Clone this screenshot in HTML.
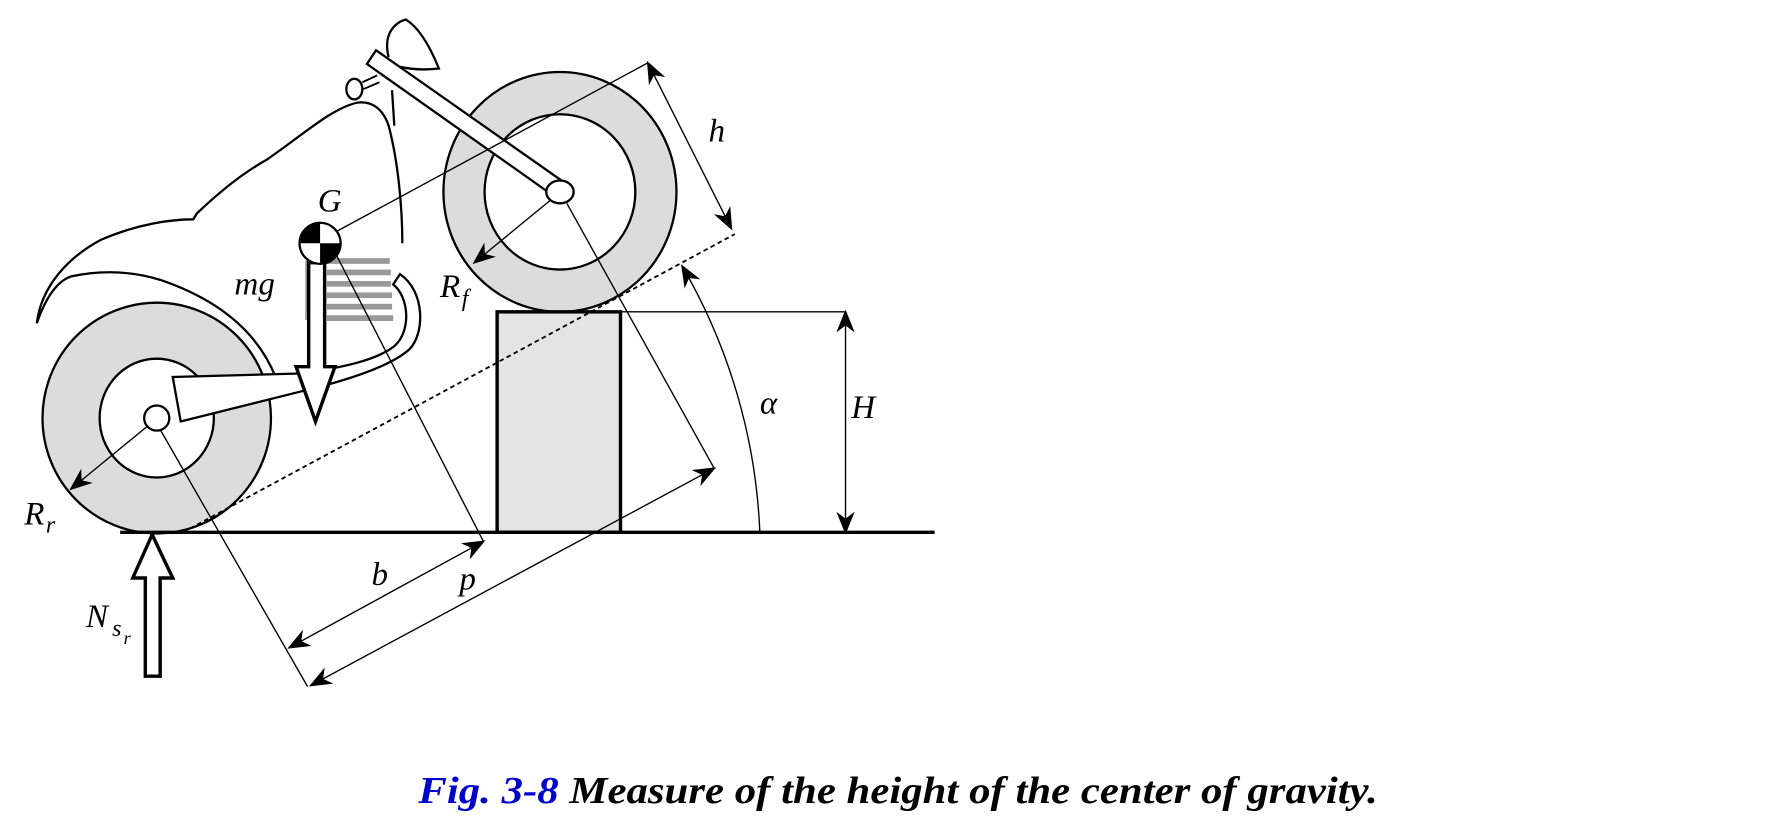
<!DOCTYPE html>
<html><head><meta charset="utf-8"><style>
html,body{margin:0;padding:0;background:#fff;width:1779px;height:827px;overflow:hidden}
svg{display:block}
text{font-family:"Liberation Serif",serif;font-style:italic}
</style></head><body>
<svg width="1779" height="827" viewBox="0 0 1557 724" xmlns="http://www.w3.org/2000/svg">
<defs>
<marker id="a" viewBox="0 0 10 10" refX="9" refY="5" markerWidth="20" markerHeight="20" markerUnits="userSpaceOnUse" orient="auto-start-reverse"><path d="M0,1 L10,5 L0,9 L3,5 Z" fill="#000"/></marker>
</defs>
<g fill="none" stroke="#000" stroke-width="2">
<path d="M32,283 C36,250 60,225 88,210 C120,196 150,192 169,192 L172,187 C195,165 215,150 233,140 C265,118 290,95 312,90 C325,88 335,95 340,110 C348,140 352,180 352,213"/>
<path d="M32,283 C40,260 50,246 62,242 C90,236 117,238 140,245 C190,262 225,290 241,330"/>
<path d="M343,79 L345,110"/>
<path d="M340,50 C335,30 345,20 355,17 C368,25 378,45 384,60 C368,62 350,60 340,55" fill="#fff"/>
<ellipse cx="310" cy="78" rx="7" ry="9" fill="#fff"/>
<path d="M317,72 L330,66 M318,78 L332,72" stroke-width="1.6"/>
</g>
<ellipse cx="137" cy="366" rx="100" ry="101" fill="#dcdcdc" stroke="#000" stroke-width="2"/>
<ellipse cx="137" cy="366" rx="50" ry="52" fill="#fff" stroke="#000" stroke-width="2"/>
<ellipse cx="490" cy="168" rx="102" ry="105" fill="#dcdcdc" stroke="#000" stroke-width="2"/>
<ellipse cx="490" cy="168" rx="66" ry="68" fill="#fff" stroke="#000" stroke-width="2"/>
<path d="M151,330 L158,369 L262,343 C300,334 340,322 358,306 C372,292 372,255 350,240 L344,249 C358,260 360,290 345,303 C330,315 300,322 262,327 Z" fill="#fff" stroke="#000" stroke-width="2"/>
<polygon points="329,44 497,162 488,174 321,56" fill="#fff" stroke="#000" stroke-width="2"/>
<rect x="435" y="273" width="108" height="193" fill="#e4e4e4" stroke="#000" stroke-width="3"/>
<circle cx="137" cy="366" r="11" fill="#fff" stroke="#000" stroke-width="2"/>
<ellipse cx="490" cy="168" rx="12" ry="10" fill="#fff" stroke="#000" stroke-width="2"/>
<line x1="105" y1="466" x2="818" y2="466" stroke="#000" stroke-width="3"/>
<g fill="#999">
<rect x="286" y="226" width="55" height="5"/><rect x="286" y="236" width="56" height="5"/><rect x="286" y="246" width="56" height="5"/><rect x="286" y="256" width="57" height="5"/><rect x="286" y="266" width="57" height="5"/><rect x="286" y="276" width="58" height="5"/>
<rect x="267" y="228" width="3" height="52"/>
</g>
<g stroke="#000" stroke-width="1.2" fill="none">
<line x1="290" y1="205" x2="567" y2="55"/>
<line x1="496" y1="178" x2="625" y2="410"/>
<line x1="140" y1="376" x2="269" y2="601"/>
<line x1="290" y1="215" x2="423" y2="474"/>
<line x1="543" y1="273" x2="740" y2="273"/>
<line x1="160" y1="466" x2="643" y2="205" stroke-dasharray="4,3" stroke-width="1.6"/>
<line x1="567" y1="55" x2="640" y2="200" marker-start="url(#a)" marker-end="url(#a)"/>
<line x1="740" y1="273" x2="740" y2="466" marker-start="url(#a)" marker-end="url(#a)"/>
<path d="M665,466 A505,505 0 0 0 597,233" marker-end="url(#a)"/>
<line x1="253" y1="567" x2="423" y2="474" marker-start="url(#a)" marker-end="url(#a)"/>
<line x1="272" y1="600" x2="625" y2="410" marker-start="url(#a)" marker-end="url(#a)"/>
<line x1="482" y1="175" x2="415" y2="230" marker-end="url(#a)"/>
<line x1="129" y1="373" x2="62" y2="428" marker-end="url(#a)"/>
</g>
<path d="M270,230 L284,230 L284,321 L293,321 L276,369 L259,321 L270,321 Z" fill="#fff" stroke="#000" stroke-width="3"/>
<path d="M127,592 L140,592 L140,506 L151,506 L133,468 L116,506 L127,506 Z" fill="#fff" stroke="#000" stroke-width="3"/>
<circle cx="280" cy="213" r="18" fill="#fff" stroke="#000" stroke-width="2"/>
<path d="M280,213 L280,195 A18,18 0 0 0 262,213 Z M280,213 L298,213 A18,18 0 0 1 280,231 Z" fill="#000"/>
<g font-size="29" fill="#000">
<text x="278" y="185">G</text>
<text x="205" y="258">mg</text>
<text x="385" y="260">R</text><text x="404" y="268" font-size="21">f</text>
<text x="620" y="124">h</text>
<text x="665" y="362" font-style="normal">α</text>
<text x="745" y="366">H</text>
<text x="325" y="512">b</text>
<text x="402" y="516">p</text>
<text x="21" y="459">R</text><text x="40" y="466" font-size="21">r</text>
<text x="75" y="549">N</text><text x="98" y="557" font-size="21">s</text><text x="108" y="564" font-size="16">r</text>
</g>
<text x="366" y="703" font-size="33" font-weight="bold" textLength="840" lengthAdjust="spacingAndGlyphs"><tspan fill="#0000cc">Fig. 3-8</tspan> Measure of the height of the center of gravity.</text>
</svg>
</body></html>
